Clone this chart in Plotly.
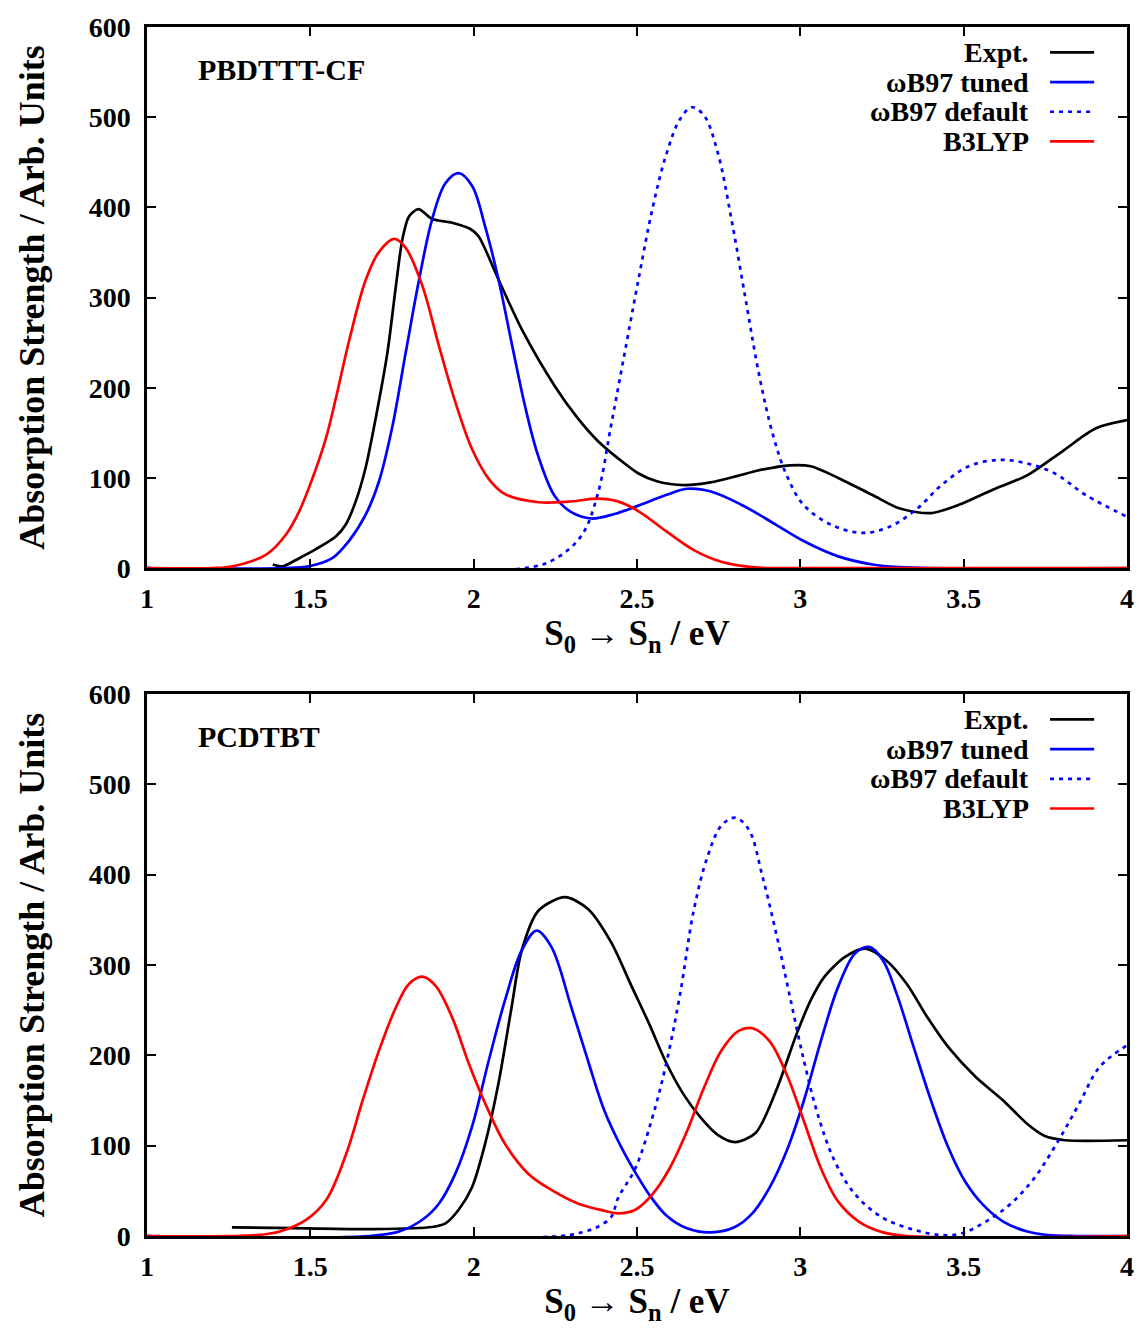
import plotly.graph_objects as go

# ---------------- data: top panel (PBDTTT-CF) ----------------
top_expt_x = [1.385, 1.415, 1.466, 1.517, 1.578, 1.608, 1.639, 1.669, 1.70, 1.736, 1.762, 1.782,
              1.802, 1.831, 1.873, 1.934, 1.99, 2.015, 2.076, 2.147, 2.248, 2.319, 2.38, 2.441,
              2.502, 2.563, 2.644, 2.725, 2.806, 2.867, 2.968, 3.032, 3.116, 3.221, 3.305, 3.40,
              3.484, 3.589, 3.695, 3.80, 3.905, 4.0]
top_expt_y = [4, 2, 11, 21, 35, 48, 74, 111, 166, 239, 313, 365,
              390, 398, 387, 383, 376, 368, 320, 265, 202, 166, 141, 122,
              105.5, 96, 92, 95, 102, 108, 114, 113, 100, 81, 66, 61,
              70, 87, 103, 129, 155, 164]

top_tuned_x = [1.0, 1.42, 1.496, 1.567, 1.618, 1.669, 1.71, 1.75, 1.792, 1.833, 1.873, 1.914,
               1.954, 1.995, 2.035, 2.076, 2.116, 2.157, 2.197, 2.248, 2.299, 2.36, 2.431, 2.502,
               2.589, 2.653, 2.726, 2.821, 2.926, 3.01, 3.116, 3.221, 3.305, 3.4, 4.0]
top_tuned_y = [0, 0, 2, 11, 30, 59, 96, 155, 239, 320, 387, 427,
               438, 424, 379, 320, 250, 180, 125, 80, 62, 55, 60, 69,
               81, 88, 85, 70, 48, 30, 13, 4, 1, 0, 0]

top_default_x = [1.0, 2.157, 2.248, 2.33, 2.379, 2.421, 2.463, 2.505, 2.547, 2.589, 2.632, 2.668,
                 2.705, 2.747, 2.789, 2.832, 2.874, 2.916, 2.958, 3.01, 3.095, 3.189, 3.274, 3.358,
                 3.432, 3.516, 3.611, 3.695, 3.779, 3.874, 4.0]
top_default_y = [0, 0, 10, 36, 81, 159, 240, 321, 398, 458, 498, 511,
                 502, 461, 387, 299, 214, 148, 103, 70, 48, 39, 46, 66,
                 92, 113, 120, 116, 105, 81, 57]

top_b3lyp_x = [1.0, 1.2, 1.263, 1.365, 1.425, 1.466, 1.507, 1.547, 1.578, 1.62, 1.67, 1.711,
               1.757, 1.792, 1.843, 1.894, 1.944, 1.995, 2.046, 2.096, 2.198, 2.299, 2.38, 2.441,
               2.505, 2.589, 2.674, 2.758, 2.853, 2.95, 4.0]
top_b3lyp_y = [0, 0, 2, 15, 37, 63, 100, 143, 188, 254, 320, 351,
               365, 355, 313, 246, 184, 132, 99, 82, 73, 74, 77, 74,
               63, 41, 20, 7, 1, 0, 0]

# ---------------- data: bottom panel (PCDTBT) ----------------
bot_expt_x = [1.26, 1.386, 1.488, 1.69, 1.873, 1.914, 1.954, 1.995, 2.035, 2.076, 2.116, 2.147,
              2.198, 2.279, 2.35, 2.421, 2.484, 2.537, 2.589, 2.642, 2.695, 2.747, 2.80, 2.863,
              2.926, 2.989, 3.032, 3.074, 3.137, 3.20, 3.263, 3.326, 3.389, 3.453, 3.537, 3.621,
              3.695, 3.747, 3.811, 4.0]
bot_expt_y = [9.6, 9, 8.5, 7.7, 10, 14, 29, 54, 102, 169, 253, 316,
              360, 375, 362, 325, 276, 235, 192, 157, 131, 112, 104, 114,
              161, 224, 261, 287, 309, 318, 305, 279, 242, 209, 176, 150,
              124, 111, 106, 106]

bot_tuned_x = [1.0, 1.68, 1.772, 1.843, 1.894, 1.944, 1.995, 2.046, 2.096, 2.147, 2.193, 2.238,
               2.299, 2.35, 2.40, 2.451, 2.502, 2.537, 2.589, 2.653, 2.726, 2.80, 2.853, 2.905,
               2.958, 3.011, 3.063, 3.116, 3.168, 3.211, 3.253, 3.295, 3.347, 3.40, 3.453, 3.505,
               3.558, 3.621, 3.695, 3.758, 3.85, 4.0]
bot_tuned_y = [0, 0, 5, 18, 36, 69, 121, 194, 261, 316, 338, 320,
               253, 194, 139, 99, 66, 46, 23, 8.5, 4, 10, 25, 53,
               94, 150, 216, 276, 313, 320, 305, 268, 209, 150, 98, 60,
               35, 16, 5, 1, 0, 0]

bot_default_x = [1.0, 2.269, 2.34, 2.379, 2.421, 2.442, 2.495, 2.547, 2.589, 2.632, 2.674, 2.716,
                 2.758, 2.80, 2.842, 2.884, 2.926, 2.968, 3.011, 3.053, 3.105, 3.168, 3.253, 3.347,
                 3.432, 3.495, 3.568, 3.642, 3.716, 3.789, 3.853, 3.916, 4.0]
bot_default_y = [0, 0, 5, 10, 21, 42, 75, 131, 190, 268, 361, 420,
                 454, 463, 450, 398, 335, 265, 194, 135, 83, 46, 20, 7,
                 1, 3, 16, 35, 64, 105, 146, 187, 211]

bot_b3lyp_x = [1.0, 1.336, 1.407, 1.488, 1.549, 1.61, 1.66, 1.711, 1.762, 1.802, 1.843, 1.883,
               1.934, 1.985, 2.035, 2.096, 2.167, 2.238, 2.319, 2.40, 2.442, 2.495, 2.547, 2.60,
               2.653, 2.705, 2.758, 2.811, 2.853, 2.905, 2.958, 3.011, 3.063, 3.116, 3.179, 3.253,
               3.326, 4.0]
bot_b3lyp_y = [0, 1, 5, 18, 40, 91, 150, 206, 253, 279, 287, 277,
               242, 191, 147, 102, 69, 51, 36, 28, 25, 29, 46, 75,
               116, 164, 205, 227, 230, 216, 179, 127, 75, 38, 16, 4,
               0, 0]

panel_labels = ["PBDTTT-CF", "PCDTBT"]
legend_names = ["Expt.", "\u03c9B97 tuned", "\u03c9B97 default", "B3LYP"]
x_ticks = [1, 1.5, 2, 2.5, 3, 3.5, 4]
y_ticks = [0, 100, 200, 300, 400, 500, 600]

# ---------------- styles ----------------
FONT = "Liberation Serif"
colors = ["#000000", "#0000ff", "#0000ff", "#ff0000"]
dashes = ["solid", "solid", "4px,5px", "solid"]
LW = 2.7

panels = [
    [(top_expt_x, top_expt_y), (top_tuned_x, top_tuned_y),
     (top_default_x, top_default_y), (top_b3lyp_x, top_b3lyp_y)],
    [(bot_expt_x, bot_expt_y), (bot_tuned_x, bot_tuned_y),
     (bot_default_x, bot_default_y), (bot_b3lyp_x, bot_b3lyp_y)],
]

W, H = 1146, 1331
ml, mr, mt, mb = 147, 14, 25, 95
ph = H - mt - mb
top_dom = [(1236 - 567) / ph, 1.0]
bot_dom = [0.0, (1236 - 693) / ph]

fig = go.Figure()
for p, series in enumerate(panels):
    xa = "x" if p == 0 else "x2"
    ya = "y" if p == 0 else "y2"
    for i, (xs, ys) in enumerate(series):
        fig.add_trace(go.Scatter(
            x=xs, y=ys, mode="lines", name=legend_names[i], showlegend=False,
            line=dict(color=colors[i], width=LW, dash=dashes[i], shape="spline",
                      smoothing=0.8 if i == 0 else 1.0),
            xaxis=xa, yaxis=ya))

axis_common = dict(
    showline=True, linecolor="black", linewidth=2.5, mirror="ticks",
    ticks="inside", ticklen=9, tickwidth=2, tickcolor="black",
    showgrid=False, zeroline=False,
    tickfont=dict(family=FONT, size=28, color="black", weight="bold"),
)
xtitle = "S<sub>0</sub> \u2192 S<sub>n</sub> / eV"
ytitle = "Absorption Strength / Arb. Units"
for p in range(2):
    sfx = "" if p == 0 else "2"
    dom = top_dom if p == 0 else bot_dom
    fig.update_layout(**{
        "xaxis" + sfx: dict(axis_common, range=[1, 4], tickvals=x_ticks,
                             ticktext=[f"{v:g}" for v in x_ticks],
                             ticklabelstandoff=4,
                             anchor="y" + sfx, domain=[0, 1],
                             title=dict(text=xtitle, standoff=8,
                                        font=dict(family=FONT, size=35, color="black", weight="bold"))),
        "yaxis" + sfx: dict(axis_common, range=[0, 600], tickvals=y_ticks,
                             ticklabelstandoff=8,
                             anchor="x" + sfx, domain=dom,
                             title=dict(text=ytitle, standoff=34,
                                        font=dict(family=FONT, size=36, color="black", weight="bold"))),
    })

annotations = []
shapes = []
for p in range(2):
    sfx = "" if p == 0 else "2"
    yref = "y" + sfx + " domain"
    xref = "x" + sfx + " domain"
    annotations.append(dict(text=panel_labels[p], x=0.050, y=0.921, xref=xref, yref=yref,
                            xanchor="left", yanchor="middle", showarrow=False,
                            font=dict(family=FONT, size=30, color="black", weight="bold")))
    for i, name in enumerate(legend_names):
        yy = 0.953 - i * 0.0548
        annotations.append(dict(text=name, x=0.902, y=yy, xref=xref, yref=yref,
                                xanchor="right", yanchor="middle", showarrow=False,
                                font=dict(family=FONT, size=28, color="black", weight="bold")))
        shapes.append(dict(type="line", xref=xref, yref=yref, x0=0.9215, x1=0.9665, y0=yy, y1=yy,
                           line=dict(color=colors[i], width=LW, dash=dashes[i])))

fig.update_layout(
    width=W, height=H,
    margin=dict(l=ml, r=mr, t=mt, b=mb),
    paper_bgcolor="white", plot_bgcolor="white",
    annotations=annotations, shapes=shapes,
    font=dict(family=FONT, color="black"),
    showlegend=False,
)

fig.write_html("out.html")
